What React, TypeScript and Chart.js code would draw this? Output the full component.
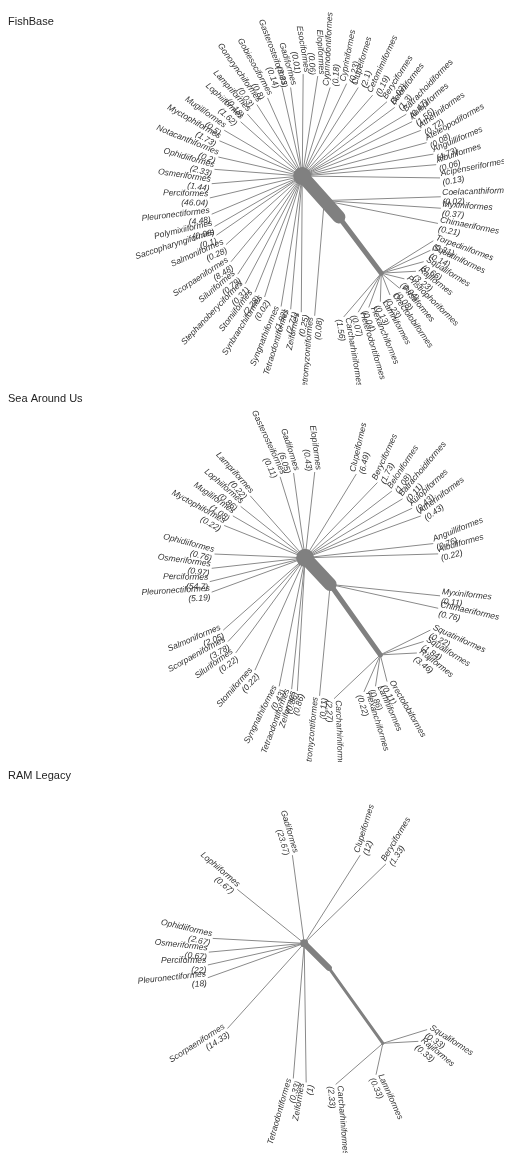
import React, { useEffect, useRef } from "react";
import { Chart, registerables } from "chart.js";

Chart.register(...registerables);

// ---- FishBase: share of species per order (%), with branch angle (deg) and length ----
const fishbaseOrders = [
  "Cyprinodontiformes", "Cypriniformes", "Clupeiformes", "Cetomimiformes", "Beryciformes",
  "Beloniformes", "Batrachoidiformes", "Aulopiformes", "Atheriniformes", "Ateleopodiformes",
  "Anguilliformes", "Albuliformes", "Acipenseriformes",
  "Coelacanthiformes", "Myxiniformes", "Chimaeriformes",
  "Torpediniformes", "Squatiniformes", "Squaliformes", "Rajiformes", "Pristiophoriformes",
  "Pristiformes", "Orectolobiformes", "Lamniformes", "Hexanchiformes", "Heterodontiformes",
  "Carcharhiniformes",
  "Petromyzontiformes",
  "Zeiformes", "Tetraodontiformes", "Syngnathiformes", "Synbranchiformes", "Stomiiformes",
  "Stephanoberyciformes", "Siluriformes", "Scorpaeniformes", "Salmoniformes",
  "Saccopharyngiformes", "Polymixiiformes", "Pleuronectiformes", "Perciformes",
  "Osmeriformes", "Ophidiiformes", "Notacanthiformes", "Myctophiformes", "Mugiliformes",
  "Lophiiformes", "Lampriformes", "Gonorynchiformes", "Gobiesociformes", "Gasterosteiformes",
  "Gadiformes", "Esociformes", "Elopiformes",
];
const fishbaseShares = [
  0.18, 0.23, 2.1, 0.19, 1.02, 1.3, 0.47, 1.56, 0.72, 0.08, 4.73, 0.06, 0.13,
  0.02, 0.37, 0.21,
  0.31, 0.14, 0.66, 3.23, 0.04, 0.08, 0.23, 0.13, 0.04, 0.07, 1.56,
  0.08,
  0.25, 2.71, 1.92, 0.02, 2.28, 0.31, 0.79, 8.48, 0.28, 0.1, 0.06, 4.48, 46.04,
  1.44, 2.33, 0.2, 1.73, 0.5, 1.62, 0.18, 0.03, 0.8, 0.14, 3.33, 0.01, 0.06,
];
const fishbaseAngles = [
  72.7, 64.6, 58.0, 49.3, 41.6, 36.9, 31.0, 26.6, 21.3, 15.2, 9.6, 4.9, -0.8,
  1.9, -3.8, -11.5,
  32.2, 25.2, 15.3, 3.2, -14, -40, -68.6, -91.9, -109.9, -120.3, -130.3,
  -94.7,
  269.6, 265.1, 260.9, 252.9, 248.1, 242.4, 237, 230.6, 222.3, 214.9, 210.2, 203.1, 193.5,
  184.9, 175.6, 167.1, 156.7, 149.3, 138.3, 131.2, 122.1, 113.7, 102.7, 97.4, 89.5, 81.3,
];
const fishbaseLengths = [
  97.4, 107.4, 109.6, 112, 117.6, 120, 126, 127.5, 132, 133.7, 138, 139.5, 143,
  121, 121.3, 120.4,
  63.8, 56.4, 45.6, 36, 24.7, 24.8, 24.7, 30, 38.3, 47.5, 60.3,
  121.4,
  143, 140.5, 138.8, 132.9, 131.5, 127.5, 122.9, 116.5, 106.9, 108.5, 105.3, 102.2, 98.7,
  94.3, 91.3, 89.3, 93.6, 94.2, 85.7, 86.5, 88.5, 89.6, 95.3, 93.8, 107, 106.2,
];
// H = Actinopterygii hub, S = stem on the trunk, C = Chondrichthyes node
const fishbaseParents = [
  "H", "H", "H", "H", "H", "H", "H", "H", "H", "H", "H", "H", "H",
  "S", "S", "S",
  "C", "C", "C", "C", "C", "C", "C", "C", "C", "C", "C",
  "S",
  "H", "H", "H", "H", "H", "H", "H", "H", "H", "H", "H", "H", "H",
  "H", "H", "H", "H", "H", "H", "H", "H", "H", "H", "H", "H", "H",
];

// ---- Sea Around Us ----
const sauOrders = [
  "Elopiformes", "Clupeiformes", "Beryciformes", "Beloniformes", "Batrachoidiformes",
  "Aulopiformes", "Atheriniformes", "Anguilliformes", "Albuliformes",
  "Myxiniformes", "Chimaeriformes",
  "Squatiniformes", "Squaliformes", "Rajiformes", "Orectolobiformes", "Lamniformes",
  "Hexanchiformes", "Carcharhiniformes",
  "Petromyzontiformes",
  "Zeiformes", "Tetraodontiformes", "Syngnathiformes", "Stomiiformes", "Siluriformes",
  "Scorpaeniformes", "Salmoniformes", "Pleuronectiformes", "Perciformes", "Osmeriformes",
  "Ophidiiformes", "Myctophiformes", "Mugiliformes", "Lophiiformes", "Lampriformes",
  "Gasterosteiformes", "Gadiformes",
];
const sauShares = [
  0.43, 6.49, 1.73, 1.08, 0.11, 0.43, 0.43, 0.76, 0.22,
  0.11, 0.76,
  0.22, 1.84, 3.46, 0.11, 0.86, 0.22, 2.27,
  0.11,
  0.86, 0.86, 0.43, 0.22, 0.22, 3.78, 2.05, 5.19, 54.7, 0.97, 0.76, 0.22, 1.08, 0.86, 0.22,
  0.11, 6.05,
];
const sauAngles = [
  83.7, 58.9, 46.5, 37.9, 31.5, 25.1, 20.1, 6.4, 1.7,
  -6.0, -12.6,
  26.6, 17.3, 3.0, -76, -98.6, -113.6, -136.2,
  -95.4,
  266.7, 264.2, 258.7, 246.2, 234.2, 227.7, 221.8, 200.4, 194.2, 186.5, 177.6, 158, 149.6,
  141.1, 131.2, 107.0, 97.7,
];
const sauLengths = [
  90.6, 102.7, 108.9, 114, 118.5, 122.6, 127.8, 133.8, 138.1,
  114.6, 114.8,
  58.1, 47.1, 38, 28.9, 33.4, 42.5, 66.5,
  117.5,
  140.2, 138.7, 137.7, 129, 123.2, 118.9, 114, 103.5, 102.1, 97.6, 94.1, 90.6, 87,
  86, 86.5, 88.9, 89.8,
];
const sauParents = [
  "H", "H", "H", "H", "H", "H", "H", "H", "H",
  "S", "S",
  "C", "C", "C", "C", "C", "C", "C",
  "S",
  "H", "H", "H", "H", "H", "H", "H", "H", "H", "H", "H", "H", "H", "H", "H", "H", "H",
];

// ---- RAM Legacy ----
const ramOrders = [
  "Clupeiformes", "Beryciformes",
  "Squaliformes", "Rajiformes", "Lamniformes", "Carcharhiniformes",
  "Zeiformes", "Tetraodontiformes", "Scorpaeniformes", "Pleuronectiformes", "Perciformes",
  "Osmeriformes", "Ophidiiformes", "Lophiiformes", "Gadiformes",
];
const ramShares = [12, 1.33, 0.33, 0.33, 0.33, 2.33, 1, 0.33, 14.33, 18, 22, 0.67, 2.67, 0.67, 23.67];
const ramAngles = [57.7, 44.3, 17.3, 3.2, -102.3, -138.8, 270.8, 265.4, 228.1, 199.7, 192.7, 185.3, 176.9, 141, 97.6];
const ramLengths = [106.5, 116, 47.1, 36.1, 32.8, 63.8, 142, 138.4, 116.8, 104.1, 100.4, 97.4, 93.1, 87.5, 90.8];
const ramParents = ["H", "H", "C", "C", "C", "C", "H", "H", "H", "H", "H", "H", "H", "H", "H"];

const PANEL_WIDTH = 496;
const BRANCH_COLOR = "#8a8a8a";
const TRUNK_COLOR = "#808080";
const TEXT_COLOR = "#333333";

interface Layout {
  height: number;
  hubX: number; // pixel position of the hub inside the panel
  hubY: number;
  hubRadius: number;
  capsuleAngle: number;
  capsuleLength: number;
  capsuleWidth: number;
  trunkAngle: number;
  trunkLength: number;
  trunkWidth: number;
  stemAt: number; // fraction along the capsule where the stem node sits
}

interface TreeSpec {
  title: string;
  orders: string[];
  shares: number[];
  angles: number[];
  lengths: number[];
  parents: string[];
  layout: Layout;
}

const trees: TreeSpec[] = [
  {
    title: "FishBase",
    orders: fishbaseOrders,
    shares: fishbaseShares,
    angles: fishbaseAngles,
    lengths: fishbaseLengths,
    parents: fishbaseParents,
    layout: {
      height: 377, hubX: 296, hubY: 167, hubRadius: 9,
      capsuleAngle: -48.5, capsuleLength: 57.4, capsuleWidth: 13,
      trunkAngle: -53.3, trunkLength: 73.6, trunkWidth: 5, stemAt: 0.6,
    },
  },
  {
    title: "Sea Around Us",
    orders: sauOrders,
    shares: sauShares,
    angles: sauAngles,
    lengths: sauLengths,
    parents: sauParents,
    layout: {
      height: 377, hubX: 299, hubY: 172, hubRadius: 9,
      capsuleAngle: -47.1, capsuleLength: 38.2, capsuleWidth: 13,
      trunkAngle: -54.9, trunkLength: 90.4, trunkWidth: 5, stemAt: 1,
    },
  },
  {
    title: "RAM Legacy",
    orders: ramOrders,
    shares: ramShares,
    angles: ramAngles,
    lengths: ramLengths,
    parents: ramParents,
    layout: {
      height: 395, hubX: 297, hubY: 181, hubRadius: 4,
      capsuleAngle: -45, capsuleLength: 35.4, capsuleWidth: 6,
      trunkAngle: -54.5, trunkLength: 94.6, trunkWidth: 3, stemAt: 0.88,
    },
  },
];

type Pt = { x: number; y: number };

function polar(from: Pt, angleDeg: number, length: number): Pt {
  const a = (angleDeg * Math.PI) / 180;
  return { x: from.x + length * Math.cos(a), y: from.y + length * Math.sin(a) };
}

function buildTree(tree: TreeSpec) {
  const L = tree.layout;
  const hub: Pt = { x: 0, y: 0 };
  const capEnd = polar(hub, L.capsuleAngle, L.capsuleLength);
  const stem = polar(hub, L.capsuleAngle, L.capsuleLength * L.stemAt);
  const chond = polar(capEnd, L.trunkAngle, L.trunkLength);
  const nodes: Record<string, Pt> = { H: hub, S: stem, C: chond };
  const tips = tree.orders.map((name, i) => {
    const parent = nodes[tree.parents[i]];
    return { name, share: tree.shares[i], parent, tip: polar(parent, tree.angles[i], tree.lengths[i]) };
  });
  return { hub, capEnd, stem, chond, tips };
}

function makeConfig(tree: TreeSpec): any {
  const L = tree.layout;
  const t = buildTree(tree);

  const branchSets = t.tips.map((b) => ({
    data: [b.parent, b.tip],
    showLine: true,
    borderColor: BRANCH_COLOR,
    borderWidth: 1,
    pointRadius: 0,
    pointHoverRadius: 0,
  }));

  const trunkSets = [
    {
      data: [t.hub],
      showLine: false,
      pointRadius: L.hubRadius,
      pointBackgroundColor: TRUNK_COLOR,
      pointBorderWidth: 0,
      pointHoverRadius: L.hubRadius,
    },
    {
      data: [t.hub, t.capEnd],
      showLine: true,
      borderColor: TRUNK_COLOR,
      borderWidth: L.capsuleWidth,
      borderCapStyle: "round",
      pointRadius: 0,
    },
    {
      data: [t.capEnd, t.chond],
      showLine: true,
      borderColor: TRUNK_COLOR,
      borderWidth: L.trunkWidth,
      borderCapStyle: "round",
      pointRadius: 0,
    },
  ];

  const labelPlugin = {
    id: "treeLabels",
    afterDatasetsDraw(chart: any) {
      const ctx = chart.ctx as CanvasRenderingContext2D;
      const xs = chart.scales.x;
      const ys = chart.scales.y;
      const cx = xs.getPixelForValue(t.stem.x);
      const cy = ys.getPixelForValue(t.stem.y);
      ctx.save();
      ctx.fillStyle = TEXT_COLOR;
      ctx.font = 'italic 8.5px "Liberation Sans", Arial, sans-serif';
      ctx.textBaseline = "middle";
      for (const b of t.tips) {
        const px = xs.getPixelForValue(b.tip.x);
        const py = ys.getPixelForValue(b.tip.y);
        const ang = Math.atan2(py - cy, px - cx);
        const flip = Math.cos(ang) < 0;
        ctx.save();
        ctx.translate(px, py);
        ctx.rotate(flip ? ang + Math.PI : ang);
        ctx.textAlign = flip ? "right" : "left";
        const x0 = flip ? -1.5 : 1.5;
        ctx.fillText(b.name, x0, -4);
        ctx.fillText(`(${b.share})`, x0, 5.5);
        ctx.restore();
      }
      ctx.font = '11px "Liberation Sans", Arial, sans-serif';
      ctx.fillStyle = "#222222";
      ctx.textAlign = "left";
      ctx.fillText(tree.title, 0, 14);
      ctx.restore();
    },
  };

  return {
    type: "scatter",
    data: { datasets: [...trunkSets, ...branchSets] },
    options: {
      animation: false,
      responsive: false,
      maintainAspectRatio: false,
      devicePixelRatio: 1,
      layout: { padding: 0 },
      events: [],
      plugins: { legend: { display: false }, tooltip: { enabled: false }, title: { display: false } },
      scales: {
        x: { type: "linear", display: false, min: -L.hubX, max: PANEL_WIDTH - L.hubX },
        y: { type: "linear", display: false, min: -(L.height - L.hubY), max: L.hubY },
      },
    },
    plugins: [labelPlugin],
  };
}

function TreePanel({ tree }: { tree: TreeSpec }) {
  const ref = useRef<HTMLCanvasElement>(null);
  useEffect(() => {
    if (!ref.current) return;
    const chart = new Chart(ref.current, makeConfig(tree));
    return () => chart.destroy();
  }, [tree]);
  return (
    <canvas
      ref={ref}
      width={PANEL_WIDTH}
      height={tree.layout.height}
      style={{ display: "block", width: PANEL_WIDTH, height: tree.layout.height }}
    />
  );
}

export default function App() {
  return (
    <div style={{ width: PANEL_WIDTH }}>
      {trees.map((tree) => (
        <TreePanel key={tree.title} tree={tree} />
      ))}
    </div>
  );
}
